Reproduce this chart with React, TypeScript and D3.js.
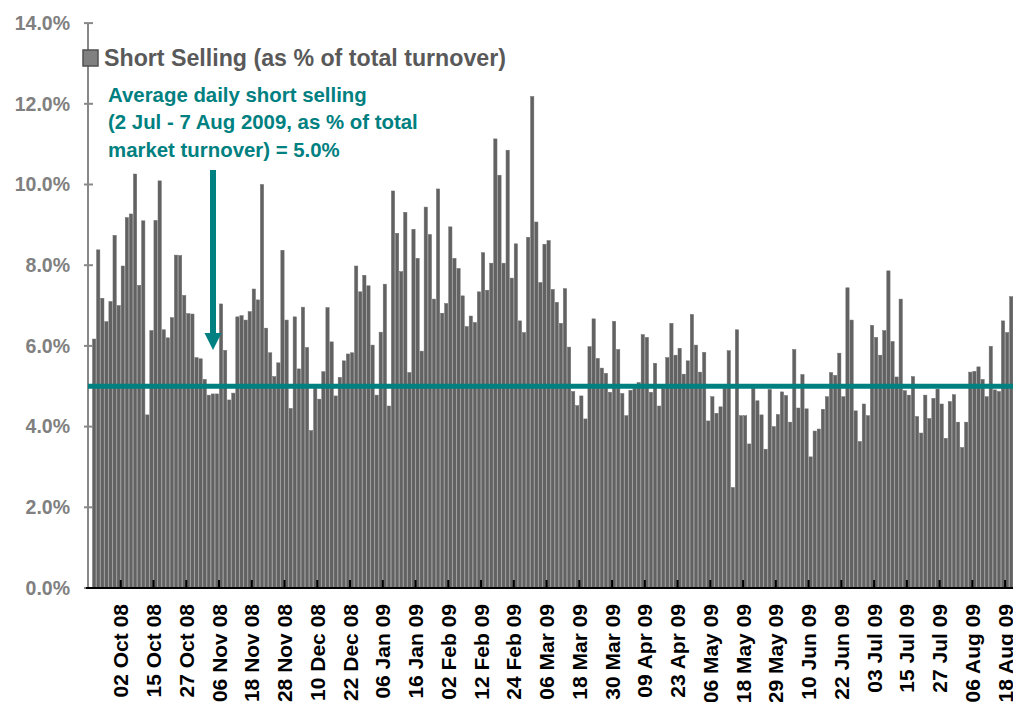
import React from 'react';
import * as d3 from 'd3';

// Short selling as % of total market turnover, daily, late Sep 2008 - Aug 2009
const shortSelling = [
  6.17, 8.38, 7.18, 6.6, 7.1, 8.74, 7.0, 7.98, 9.18, 9.27,
  10.26, 7.5, 9.1, 4.29, 6.38, 9.11, 10.09, 6.4, 6.2, 6.7,
  8.25, 8.24, 7.25, 6.8, 6.79, 5.71, 5.68, 5.17, 4.78, 4.81,
  4.81, 7.04, 5.89, 4.66, 4.83, 6.72, 6.75, 6.64, 6.85, 7.41,
  7.14, 10.0, 6.44, 5.83, 5.24, 5.58, 8.37, 6.64, 4.45, 6.72,
  5.43, 6.96, 5.96, 3.9, 4.98, 4.68, 5.36, 6.95, 6.1, 4.76,
  5.22, 5.63, 5.8, 5.83, 7.98, 7.34, 7.75, 7.49, 6.02, 4.78,
  6.34, 7.53, 4.51, 9.84, 8.79, 7.84, 9.31, 5.34, 8.89, 8.17,
  5.87, 9.44, 8.76, 7.16, 9.89, 6.81, 7.05, 8.95, 8.17, 7.92,
  7.24, 6.48, 6.74, 6.58, 7.34, 8.31, 7.38, 8.05, 11.13, 10.23,
  8.05, 10.85, 7.68, 8.53, 6.62, 6.33, 8.69, 12.18, 9.07, 7.57,
  8.52, 8.61, 7.4, 7.08, 6.56, 7.42, 5.97, 4.87, 4.52, 4.76,
  4.19, 5.98, 6.67, 5.69, 5.45, 5.32, 4.85, 6.61, 5.91, 4.82,
  4.27, 4.9, 4.95, 5.09, 6.28, 6.21, 4.85, 5.57, 4.51, 4.95,
  5.71, 6.56, 5.77, 5.94, 5.3, 5.63, 6.78, 6.02, 5.35, 5.84,
  4.14, 4.74, 4.33, 4.49, 4.95, 5.88, 2.49, 6.4, 4.27, 4.27,
  3.57, 4.95, 4.64, 4.29, 3.44, 4.92, 4.0, 4.3, 4.86, 4.77,
  4.11, 5.91, 4.46, 5.29, 4.44, 3.25, 3.89, 3.94, 4.43, 4.74,
  5.34, 5.27, 5.82, 4.74, 7.44, 6.64, 4.39, 3.63, 4.56, 4.27,
  6.51, 6.21, 5.77, 6.38, 7.86, 6.11, 5.23, 7.16, 4.89, 4.78,
  5.24, 4.25, 3.84, 4.78, 4.2, 4.7, 4.93, 4.56, 3.71, 4.62,
  4.79, 4.11, 3.48, 4.11, 5.35, 5.37, 5.48, 5.17, 4.74, 5.99,
  4.91, 4.87, 6.62, 6.33, 7.22,
];

const tickLabels = [
  '02 Oct 08', '15 Oct 08', '27 Oct 08', '06 Nov 08', '18 Nov 08', '28 Nov 08',
  '10 Dec 08', '22 Dec 08', '06 Jan 09', '16 Jan 09', '02 Feb 09', '12 Feb 09',
  '24 Feb 09', '06 Mar 09', '18 Mar 09', '30 Mar 09', '09 Apr 09', '23 Apr 09',
  '06 May 09', '18 May 09', '29 May 09', '10 Jun 09', '22 Jun 09', '03 Jul 09',
  '15 Jul 09', '27 Jul 09', '06 Aug 09', '18 Aug 09',
];

const yTicks = [0, 2, 4, 6, 8, 10, 12, 14];
const averageLevel = 5.0;
const labelEvery = 8;

const annotationLines = [
  'Average daily short selling',
  '(2 Jul - 7 Aug 2009, as % of total',
  'market turnover) = 5.0%',
];

const W = 1013;
const H = 702;
const left = 88;
const right = 1013.3;
const top = 23.1;
const bottom = 588;
const teal = '#008080';
const font = '"Liberation Sans", Arial, sans-serif';

export default function App() {
  // one empty slot before the first bar, as in the original plot
  const slots = shortSelling.length + 1;
  const step = (right - left) / slots;

  const x = d3.scaleBand<number>()
    .domain(d3.range(shortSelling.length))
    .range([left + step, right])
    .paddingInner(0.2)
    .paddingOuter(0.1);

  const y = d3.scaleLinear().domain([0, 14]).range([bottom, top]);

  const tickXs = tickLabels.map((_, k) => x((k + 1) * labelEvery - 1)! - x.step() * x.paddingInner() / 2);
  const avgY = y(averageLevel);

  return (
    <svg width={W} height={H} style={{ position: 'absolute', left: 0, top: 0, background: '#fff' }}
      fontFamily={font} fontWeight="bold">
      {/* bars */}
      <g>
        {shortSelling.map((v, i) => (
          <rect key={i} x={x(i)} y={y(v)} width={x.bandwidth()} height={y(0) - y(v)}
            fill="#626262" stroke="#6e6e6e" strokeWidth={0.5} />
        ))}
      </g>

      {/* y axis */}
      <line x1={left} x2={left} y1={top} y2={bottom} stroke="#888" strokeWidth={2} />
      {yTicks.map(t => (
        <g key={t}>
          <line x1={left - 4} x2={left + 5} y1={y(t)} y2={y(t)} stroke="#888" strokeWidth={2} />
          <text x={70} y={y(t)} dy="0.35em" textAnchor="end" fontSize={19.5} fill="#808080">
            {d3.format('.1f')(t)}%
          </text>
        </g>
      ))}

      {/* x axis */}
      <line x1={left - 2} x2={W} y1={bottom} y2={bottom} stroke="#000" strokeWidth={2} />
      {tickXs.map((tx, k) => (
        <g key={k}>
          <line x1={tx} x2={tx} y1={bottom - 8} y2={bottom} stroke="#000" strokeWidth={2} />
          <text transform={`translate(${tx + 7.5},604) rotate(-90)`} textAnchor="end" fontSize={21} fill="#000">
            {tickLabels[k]}
          </text>
        </g>
      ))}

      {/* average line */}
      <line x1={left} x2={W} y1={avgY} y2={avgY} stroke={teal} strokeWidth={5} />

      {/* legend */}
      <rect x={83} y={50} width={15} height={16} fill="#808080" stroke="#505050" strokeWidth={1.5} />
      <text x={104} y={66} fontSize={23.2} fill="#595959">Short Selling (as % of total turnover)</text>

      {/* annotation */}
      {annotationLines.map((line, i) => (
        <text key={i} x={108} y={101.5 + i * 27.5} fontSize={20.4} fill={teal}>{line}</text>
      ))}
      <line x1={213} x2={213} y1={170} y2={335} stroke={teal} strokeWidth={6} />
      <polygon points="204.5,333 221.5,333 213,350" fill={teal} />
    </svg>
  );
}
